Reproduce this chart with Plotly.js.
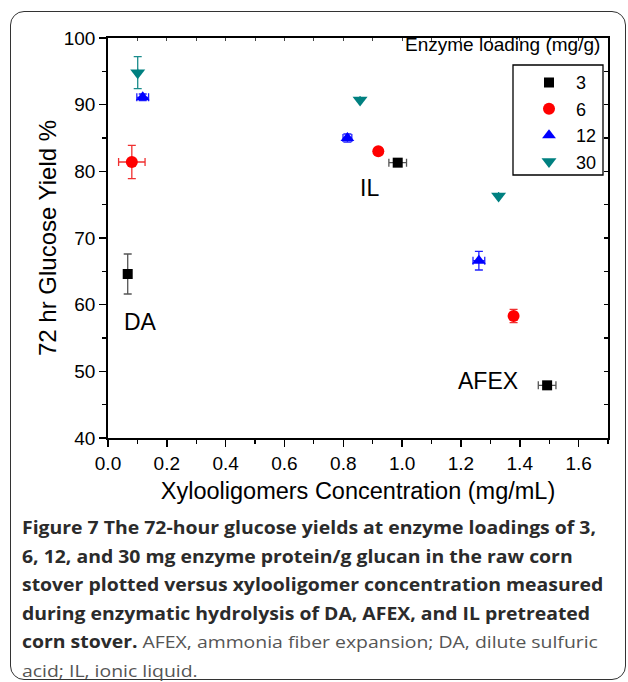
<!DOCTYPE html>
<html>
<head>
<meta charset="utf-8">
<script src="https://cdn.plot.ly/plotly-3.0.1.min.js"></script>
<style>
  html, body { margin: 0; padding: 0; background: #fff; }
  #wrap { position: relative; width: 628px; height: 682px; overflow: hidden; }
  #chart { position: absolute; left: 0; top: 0; width: 628px; height: 682px; }
  #frame { position: absolute; left: 10px; top: 11px; width: 616px; height: 669px;
           border: 1.5px solid #333; border-radius: 14px; box-sizing: border-box; pointer-events: none; }
  #caption { position: absolute; left: 22px; top: 514px; font-family: "Open Sans", "Noto Sans", sans-serif;
             font-size: 17px; line-height: 28.5px; color: #333; white-space: nowrap; transform-origin: 0 0; }
  #caption b { font-weight: 700; color: #2b2b2b; }
  #caption .n { font-weight: 400; color: #555; }
</style>
</head>
<body>
<div id="wrap">
  <div id="chart"></div>
  <div id="frame"></div>
  <div id="caption">
    <div id="cap1"><b>Figure 7</b> <b>The 72-hour glucose yields at enzyme loadings of 3,</b></div>
    <div><b>6, 12, and 30 mg enzyme protein/g glucan in the raw corn</b></div>
    <div><b>stover plotted versus xylooligomer concentration measured</b></div>
    <div><b>during enzymatic hydrolysis of DA, AFEX, and IL pretreated</b></div>
    <div><b>corn stover.</b><span class="n"> AFEX, ammonia fiber expansion; DA, dilute sulfuric</span></div>
    <div><span class="n">acid; IL, ionic liquid.</span></div>
  </div>
</div>
<script>
// Order of points in each series: DA, IL, AFEX
const pretreatments = ["DA", "IL", "AFEX"];

const load3_x    = [0.067, 0.985, 1.493];
const load3_y    = [64.6, 81.3, 47.9];
const load3_xerr = [0.0, 0.03, 0.03];
const load3_yerr = [3.0, 0.0, 0.0];

const load6_x    = [0.081, 0.919, 1.379];
const load6_y    = [81.4, 83.0, 58.3];
const load6_xerr = [0.045, 0.0, 0.01];
const load6_yerr = [2.5, 0.0, 1.0];

const load12_x    = [0.118, 0.814, 1.261];
const load12_y    = [91.1, 85.0, 66.6];
const load12_xerr = [0.02, 0.015, 0.02];
const load12_yerr = [0.5, 0.6, 1.4];

const load30_x    = [0.101, 0.857, 1.328];
const load30_y    = [94.8, 90.7, 76.3];
const load30_xerr = [0.0, 0.0, 0.0];
const load30_yerr = [2.4, 0.0, 0.0];

const loadingNames = ["3", "6", "12", "30"];

const labelText = ["DA", "IL", "AFEX"];
const labelX = [0.109, 0.888, 1.293];
const labelY = [57.4, 77.5, 48.5];

const xTickVals = [0, 0.2, 0.4, 0.6, 0.8, 1.0, 1.2, 1.4, 1.6];
const xTickText = ["0.0", "0.2", "0.4", "0.6", "0.8", "1.0", "1.2", "1.4", "1.6"];

function series(name, xs, ys, xe, ye, sym, size, color, errColor) {
  return {
    type: "scatter", mode: "markers", name: name, x: xs, y: ys,
    marker: { symbol: sym, size: size, color: color, line: { width: 0 } },
    error_x: { type: "data", array: xe, visible: true, color: errColor, thickness: 1.3, width: 4 },
    error_y: { type: "data", array: ye, visible: true, color: errColor, thickness: 1.3, width: 4 },
    text: pretreatments, hoverinfo: "x+y+text"
  };
}

const data = [
  series(loadingNames[0], load3_x, load3_y, load3_xerr, load3_yerr, "square", 10, "#000000", "#555555"),
  series(loadingNames[1], load6_x, load6_y, load6_xerr, load6_yerr, "circle", 12, "#ff0000", "#f03030"),
  series(loadingNames[2], load12_x, load12_y, load12_xerr, load12_yerr, "triangle-up", 12, "#0000ff", "#2020ff"),
  series(loadingNames[3], load30_x, load30_y, load30_xerr, load30_yerr, "triangle-down", 13, "#008080", "#1a8c8c")
];

const font = "Arial";

const annotations = labelText.map((t, i) => ({
  x: labelX[i], y: labelY[i], xref: "x", yref: "y", text: t, showarrow: false,
  font: { family: font, size: 23, color: "#000" }
}));
annotations.push({
  x: 0.988, y: 0.9825, xref: "paper", yref: "paper", xanchor: "right", yanchor: "middle",
  text: "Enzyme loading (mg/g)", showarrow: false, font: { family: font, size: 19, color: "#000" }
});

const layout = {
  width: 628, height: 682,
  margin: { l: 108, r: 20, t: 38, b: 244 },
  paper_bgcolor: "rgba(0,0,0,0)", plot_bgcolor: "#fff",
  font: { family: font, size: 19, color: "#000" },
  showlegend: true,
  legend: {
    x: 0.828, y: 0.9345, xanchor: "left", yanchor: "top",
    borderwidth: 0, bgcolor: "rgba(0,0,0,0)",
    font: { family: font, size: 18, color: "#000" }, itemwidth: 44
  },
  shapes: [{
    type: "rect", xref: "paper", yref: "paper", x0: 0.81, x1: 0.99, y0: 0.6575, y1: 0.9325,
    line: { color: "#000", width: 1.3 }, fillcolor: "rgba(0,0,0,0)", layer: "above"
  }],
  xaxis: {
    range: [0, 1.7], showgrid: false, zeroline: false,
    showline: true, linecolor: "#000", linewidth: 1.8,
    ticks: "outside", ticklen: 7, tickwidth: 1.5, tickcolor: "#000",
    tickvals: xTickVals, ticktext: xTickText,
    minor: { dtick: 0.1, ticks: "outside", ticklen: 4, tickwidth: 1.2, tickcolor: "#000" },
    tickfont: { family: font, size: 19 },
    title: { text: "Xylooligomers Concentration (mg/mL)", font: { family: font, size: 23.5 }, standoff: 10 }
  },
  yaxis: {
    range: [40, 100], showgrid: false, zeroline: false,
    showline: true, linecolor: "#000", linewidth: 1.8,
    ticks: "outside", ticklen: 7, tickwidth: 1.5, tickcolor: "#000",
    dtick: 10, tick0: 40,
    minor: { dtick: 5, ticks: "outside", ticklen: 4, tickwidth: 1.2, tickcolor: "#000" },
    tickfont: { family: font, size: 19 },
    title: { text: "72 hr Glucose Yield %", font: { family: font, size: 24 }, standoff: 0 }
  },
  xaxis2: {
    overlaying: "x", side: "top", anchor: "y2", range: [0, 1.7], showgrid: false, zeroline: false,
    showline: true, linecolor: "#000", linewidth: 1.8, showticklabels: false,
    ticks: "inside", ticklen: 3, tickwidth: 1, tickcolor: "#444", dtick: 0.1, tick0: 0
  },
  yaxis2: {
    overlaying: "y", side: "right", anchor: "x2", range: [40, 100], showgrid: false, zeroline: false,
    showline: true, linecolor: "#000", linewidth: 1.8, showticklabels: false,
    ticks: "inside", ticklen: 4, tickwidth: 1.2, tickcolor: "#000", dtick: 5, tick0: 40
  },
  annotations: annotations
};

// invisible trace so the mirrored (top/right) axes get drawn
data.push({ type: "scatter", mode: "markers", x: [], y: [], xaxis: "x2", yaxis: "y2",
            showlegend: false, hoverinfo: "skip" });

Plotly.newPlot("chart", data, layout, { displayModeBar: false, staticPlot: true }).then(() => {
  const cap = document.getElementById("caption");
  const l1 = document.getElementById("cap1");
  const range = document.createRange();
  range.selectNodeContents(l1);
  const tw = range.getBoundingClientRect().width;
  const k = 574 / tw;
  cap.style.transform = "scaleX(" + k.toFixed(4) + ")";
});
</script>
</body>
</html>
